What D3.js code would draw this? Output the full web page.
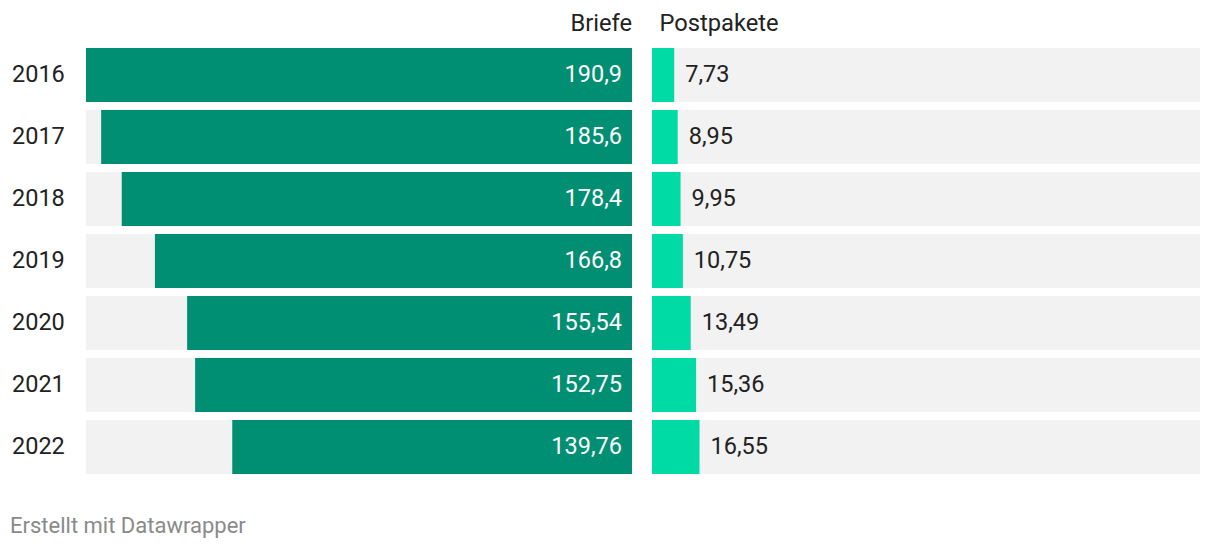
<!DOCTYPE html>
<html><head><meta charset="utf-8">
<script src="https://cdn.jsdelivr.net/npm/d3@7"></script>
<style>body{margin:0;background:#fff;font-family:Roboto,sans-serif;}</style>
</head><body>
<svg id="c" width="1220" height="550"></svg>
<script>
const years = ["2016","2017","2018","2019","2020","2021","2022"];
const briefe = [190.9,185.6,178.4,166.8,155.54,152.75,139.76];
const pakete = [7.73,8.95,9.95,10.75,13.49,15.36,16.55];
const seriesNames = ["Briefe","Postpakete"];

const svg = d3.select("#c");
const fmt = v => String(v).replace(".", ",");
const maxV = d3.max(briefe);

const y = d3.scaleBand().domain(years).range([48, 48 + 62*7 - 8]).paddingInner(8/62).paddingOuter(0);

const xL = d3.scaleLinear().domain([0, maxV]).range([632, 86]);
const xR = d3.scaleLinear().domain([0, maxV]).range([652, 1200]);

const fs = 23.5;
svg.append("text").attr("x",632).attr("y",31).attr("text-anchor","end")
  .attr("font-size",23.7).attr("fill","#222").text(seriesNames[0]);
svg.append("text").attr("x",659.5).attr("y",31)
  .attr("font-size",23.7).attr("fill","#222").text(seriesNames[1]);

const rows = svg.selectAll("g.row").data(years).join("g").attr("class","row");

rows.append("text").attr("x",12).attr("y",d=>y(d)+y.bandwidth()/2).attr("dy","0.3em")
  .attr("font-size",fs).attr("fill","#222").text(d=>d);

rows.append("rect").attr("x",xL(maxV)).attr("width",xL(0)-xL(maxV))
  .attr("y",d=>y(d)).attr("height",y.bandwidth()).attr("fill","#f2f2f2");
rows.append("rect").attr("x",xR(0)).attr("width",xR(maxV)-xR(0))
  .attr("y",d=>y(d)).attr("height",y.bandwidth()).attr("fill","#f2f2f2");

rows.append("rect").attr("x",(d,i)=>xL(briefe[i])).attr("width",(d,i)=>xL(0)-xL(briefe[i]))
  .attr("y",d=>y(d)).attr("height",y.bandwidth()).attr("fill","#008f73");
rows.append("rect").attr("x",xR(0)).attr("width",(d,i)=>xR(pakete[i])-xR(0))
  .attr("y",d=>y(d)).attr("height",y.bandwidth()).attr("fill","#00dba6");

rows.append("text").attr("x",xL(0)-10).attr("y",d=>y(d)+y.bandwidth()/2).attr("dy","0.3em")
  .attr("text-anchor","end").attr("font-size",fs).attr("fill","#fff").text((d,i)=>fmt(briefe[i]));
rows.append("text").attr("x",(d,i)=>xR(pakete[i])+11).attr("y",d=>y(d)+y.bandwidth()/2).attr("dy","0.3em")
  .attr("font-size",fs).attr("fill","#222").text((d,i)=>fmt(pakete[i]));

svg.append("text").attr("x",10).attr("y",533).attr("font-size",22).attr("fill","#8a8a8a")
  .text("Erstellt mit Datawrapper");
</script>
</body></html>
